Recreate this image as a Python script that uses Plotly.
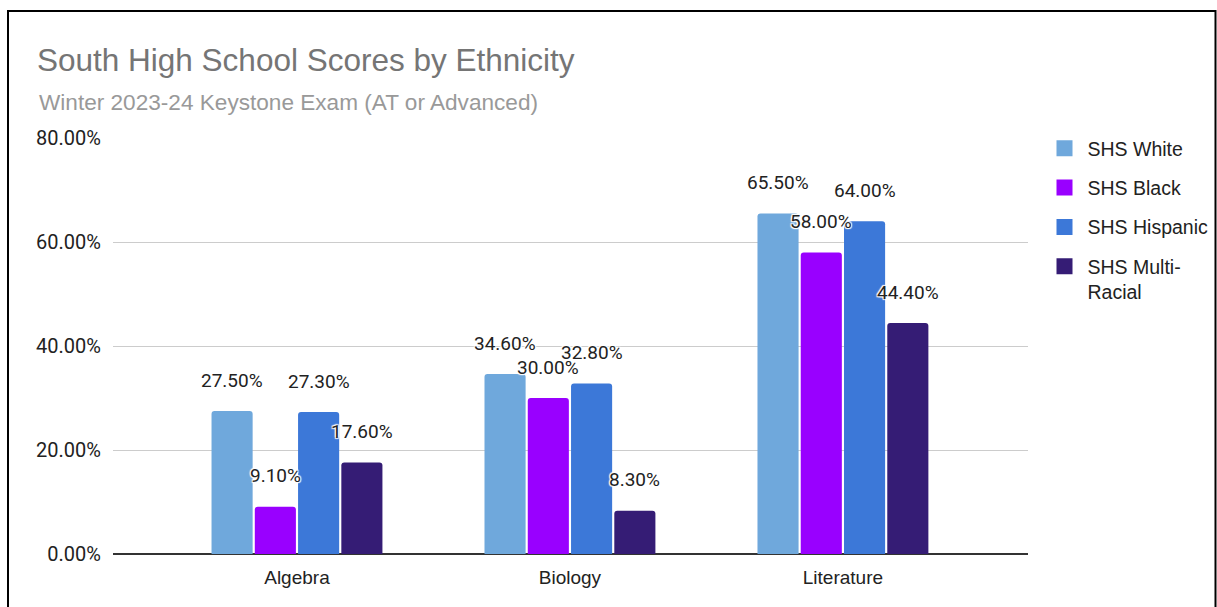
import plotly.graph_objects as go

categories = ["Algebra", "Biology", "Literature"]
series_names = ["SHS White", "SHS Black", "SHS Hispanic", "SHS Multi-Racial"]
legend_labels = ["SHS White", "SHS Black", "SHS Hispanic", "SHS Multi-<br>Racial"]
white = [27.5, 34.6, 65.5]
black = [9.1, 30.0, 58.0]
hispanic = [27.3, 32.8, 64.0]
multi = [17.6, 8.3, 44.4]
series_values = [white, black, hispanic, multi]
colors = ["#6fa8dc", "#9900ff", "#3c78d8", "#351c75"]
y_ticks = [0, 20, 40, 60, 80]
y_ticktext = ["0.00%", "20.00%", "40.00%", "60.00%", "80.00%"]

BARGAP = 0.366
BARGROUPGAP = 0.05
SANS = "Liberation Sans, Arial, sans-serif"
ROBOTO = "Roboto, sans-serif"

W, H = 1217, 607
ML, MR, MT = 113, 1217 - 1028, 138
PB = 554  # plot bottom
MB = H - PB
PW, PH = W - ML - MR, H - MT - MB


def px_x(sx):
    return (sx - ML) / PW


def px_y(sy):
    return (PB - sy) / PH


fig = go.Figure()
n = len(series_names)
slot = (1 - BARGAP) / n
for j, (name, vals, col) in enumerate(zip(series_names, series_values, colors)):
    fig.add_trace(go.Bar(
        x=categories, y=vals, name=name, marker_color=col,
        marker_line_width=0, showlegend=False, legendgroup=name,
    ))
    fig.add_trace(go.Scatter(
        x=[None], y=[None], mode="markers", name=legend_labels[j],
        marker=dict(symbol="square", size=16, color=col),
        legendgroup=name, showlegend=True,
    ))

annotations = []
shadow = "white 1px 1px 1px, white -1px -1px 1px, white 1px -1px 1px, white -1px 1px 1px, white 0 0 2px"
for j, vals in enumerate(series_values):
    for i, v in enumerate(vals):
        annotations.append(dict(
            x=i + (j - (n - 1) / 2) * slot, y=v, xref="x", yref="y",
            text=f"{v:.2f}%", showarrow=False, yshift=31,
            font=dict(family=ROBOTO, size=19, color="#222222", shadow=shadow),
            xanchor="center", yanchor="middle",
        ))

# subtitle
annotations.append(dict(
    x=px_x(37), y=px_y(103), xref="paper", yref="paper",
    text="Winter 2023-24 Keystone Exam (AT or Advanced)", showarrow=False,
    xanchor="left", yanchor="middle",
    font=dict(family=SANS, size=22.6, color="#999999"),
))

fig.update_layout(
    width=W, height=H,
    margin=dict(l=ML, r=MR, t=MT, b=MB, pad=0, autoexpand=False),
    paper_bgcolor="white", plot_bgcolor="white",
    barmode="group", bargap=BARGAP, bargroupgap=BARGROUPGAP,
    barcornerradius=3,
    title=dict(
        text="South High School Scores by Ethnicity",
        xref="container", yref="container", x=37 / W, y=1 - 60 / H,
        xanchor="left", yanchor="middle",
        font=dict(family=SANS, size=31.5, color="#757575"),
    ),
    annotations=annotations,
    legend=dict(
        xref="container", yref="container",
        x=1041.5 / W, y=1 - 129 / H, xanchor="left", yanchor="top",
        font=dict(family=SANS, size=19.5, color="#222222"),
        itemwidth=36, tracegroupgap=11, valign="top", bgcolor="rgba(0,0,0,0)",
    ),
    xaxis=dict(
        type="category", range=[-0.674, 2.678], showgrid=False,
        showline=False, ticks="outside", ticklen=6, tickcolor="rgba(0,0,0,0)",
        tickfont=dict(family=SANS, size=19, color="#222222"),
        fixedrange=True,
    ),
    yaxis=dict(
        range=[0, 80], tickvals=y_ticks, ticktext=y_ticktext,
        showgrid=True, gridcolor="#cccccc", gridwidth=1,
        zeroline=True, zerolinecolor="#333333", zerolinewidth=2,
        ticks="outside", ticklen=7, tickcolor="rgba(0,0,0,0)",
        tickfont=dict(family=ROBOTO, size=20, color="#222222"),
        fixedrange=True,
    ),
    shapes=[dict(
        type="rect", xref="paper", yref="paper",
        x0=px_x(8), x1=px_x(1215.5),
        y0=px_y(650), y1=px_y(11),
        line=dict(color="black", width=2), fillcolor="rgba(0,0,0,0)", layer="below",
    )],
)

fig.write_html(
    "out.html",
    config={"displayModeBar": False},
    post_script="document.body.style.margin='0px';document.body.style.overflow='hidden';",
)
